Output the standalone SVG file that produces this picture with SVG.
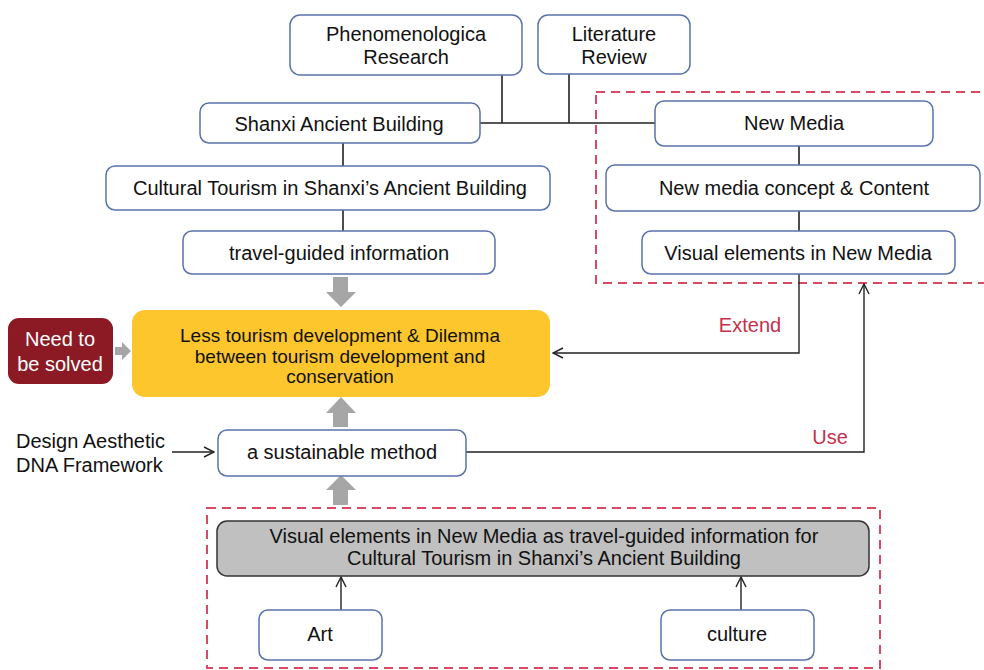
<svg xmlns="http://www.w3.org/2000/svg" width="984" height="670" viewBox="0 0 984 670">
<defs>
<marker id="open" viewBox="0 0 12 12" refX="11" refY="6" markerWidth="12" markerHeight="12" markerUnits="userSpaceOnUse" orient="auto">
<path d="M1,1 L11,6 L1,11" fill="none" stroke="#222" stroke-width="1.4"/>
</marker>
</defs>
<style>
text{font-family:"Liberation Sans",Arial,sans-serif;font-size:20px;fill:#111;text-anchor:middle}
.box{fill:#fff;stroke:#5a72aa;stroke-width:1.5}
.ln{stroke:#222;stroke-width:1.6;fill:none}
.arr{stroke:#222;stroke-width:1.4;fill:none;marker-end:url(#open)}
.dash{fill:none;stroke:#d64a63;stroke-width:2;stroke-dasharray:9,6}
.blk{fill:#a6a6a6}
.red{fill:#c4314b}
.y{font-size:19px}
</style>
<rect width="984" height="670" fill="#fff"/>
<rect class="dash" x="596" y="92" width="400" height="191"/>
<rect class="dash" x="207" y="508" width="673" height="160"/>
<g id="connectors">
<path class="ln" d="M502,75 V123 M569,74 V123 M480,123 H655"/>
<path class="ln" d="M343,143 V166 M343,210 V231"/>
<path class="ln" d="M799,146 V165 M799,211 V231"/>
<path class="arr" d="M799,274 V353 H553"/>
<path class="arr" d="M466,452 H864 V284"/>
<path class="arr" d="M172,452 H214"/>
<path class="arr" d="M341,610 V577"/>
<path class="arr" d="M741,610 V577"/>
<path class="blk" d="M333,277 H348 V292 H356 L341,307 L326,292 H333 Z"/>
<path class="blk" d="M333,427 H348 V413 H356 L341,397 L326,413 H333 Z"/>
<path class="blk" d="M333,505 H348 V490 H356 L341,475 L326,490 H333 Z"/>
<path class="blk" d="M115,347 H122 V342 L131,351 L122,360 V355 H115 Z"/>
<text class="red" x="750" y="332">Extend</text>
<text class="red" x="830" y="444">Use</text>
</g>
<g id="phenom"><rect class="box" x="290" y="15" width="232" height="60" rx="10"/><text x="406" y="41">Phenomenologica</text><text x="406" y="64">Research</text></g>
<g id="literature"><rect class="box" x="538" y="15" width="152" height="59" rx="10"/><text x="614" y="41">Literature</text><text x="614" y="64">Review</text></g>
<g id="shanxi"><rect class="box" x="200" y="103" width="280" height="40" rx="9"/><text x="339" y="131">Shanxi Ancient Building</text></g>
<g id="newmedia"><rect class="box" x="655" y="101" width="278" height="45" rx="9"/><text x="794" y="130">New Media</text></g>
<g id="concept"><rect class="box" x="606" y="165" width="374" height="46" rx="9"/><text x="794" y="195">New media concept &amp; Content</text></g>
<g id="visual"><rect class="box" x="642" y="231" width="313" height="43" rx="9"/><text x="798" y="260">Visual elements in New Media</text></g>
<g id="cultural"><rect class="box" x="106" y="166" width="444" height="44" rx="9"/><text x="330" y="195">Cultural Tourism in Shanxi’s Ancient Building</text></g>
<g id="travel"><rect class="box" x="183" y="231" width="312" height="43" rx="9"/><text x="339" y="260">travel-guided information</text></g>
<g id="dilemma"><rect x="132" y="310" width="418" height="87" rx="13" fill="#fdc62d"/><text class="y" x="340" y="342">Less tourism development &amp; Dilemma</text><text class="y" x="340" y="362.5">between tourism development and</text><text class="y" x="340" y="383">conservation</text></g>
<g id="need"><rect x="8" y="318" width="105" height="66" rx="11" fill="#8c1a24"/><text x="60" y="346" style="fill:#fff">Need to</text><text x="60" y="371" style="fill:#fff">be solved</text></g>
<g id="design"><text x="16" y="448" style="text-anchor:start">Design Aesthetic</text><text x="16" y="472" style="text-anchor:start">DNA Framework</text></g>
<g id="method"><rect class="box" x="218" y="430" width="248" height="46" rx="9"/><text x="342" y="459">a sustainable method</text></g>
<g id="visualguide"><rect x="217" y="521" width="652" height="55" rx="10" fill="#c0c0c0" stroke="#333" stroke-width="1.5"/><text x="544" y="543">Visual elements in New Media as travel-guided information for</text><text x="544" y="565">Cultural Tourism in Shanxi’s Ancient Building</text></g>
<g id="art"><rect class="box" x="259" y="610" width="123" height="50" rx="9"/><text x="320" y="641">Art</text></g>
<g id="culture"><rect class="box" x="661" y="610" width="153" height="50" rx="9"/><text x="737" y="641">culture</text></g>
</svg>
